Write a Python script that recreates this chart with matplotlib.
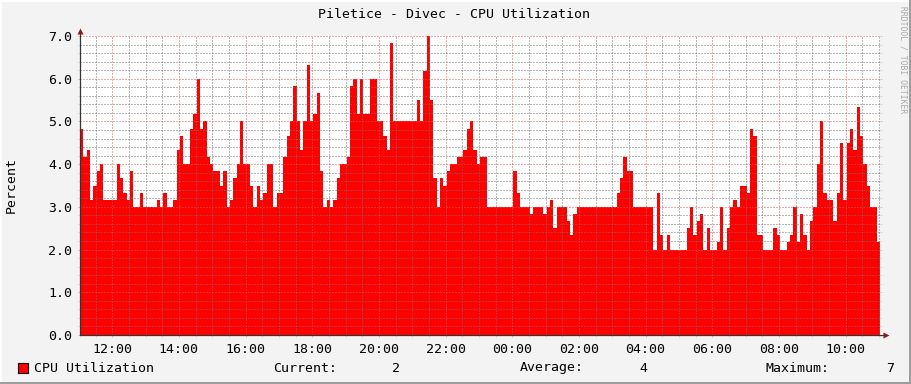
#!/usr/bin/env python3
"""RRDtool-style 1-day CPU utilization graph, redrawn with matplotlib -> out.png"""
import matplotlib
matplotlib.use("Agg")
import matplotlib.pyplot as plt
from matplotlib.patches import Rectangle
from matplotlib.ticker import MultipleLocator, FuncFormatter

TITLE = "Piletice - Divec - CPU Utilization"
YLABEL = "Percent"
SERIES = "CPU Utilization"

# 6-minute samples: time where a new value starts, and the value (%)
TIMES = ["11:02", "11:08", "11:14", "11:20", "11:26", "11:32", "11:38", "11:44",
         "12:08", "12:14", "12:20", "12:26", "12:32", "12:38", "12:50", "12:56",
         "13:20", "13:26", "13:32", "13:38", "13:50", "13:56",
         "14:02", "14:08", "14:20", "14:26", "14:32", "14:38", "14:44", "14:50", "14:56",
         "15:02", "15:14", "15:20", "15:26", "15:32", "15:38", "15:44", "15:50", "15:56",
         "16:08", "16:14", "16:20", "16:26", "16:32", "16:38", "16:50", "16:56",
         "17:08", "17:14", "17:20", "17:26", "17:32", "17:38", "17:44", "17:50", "17:56",
         "18:02", "18:08", "18:14", "18:20", "18:26", "18:32", "18:38", "18:44", "18:50",
         "19:02", "19:08", "19:14", "19:20", "19:26", "19:32", "19:44", "19:56",
         "20:08", "20:14", "20:20", "20:26",
         "21:08", "21:14", "21:20", "21:26", "21:32", "21:38", "21:44", "21:50", "21:56",
         "22:02", "22:08", "22:20", "22:32", "22:38", "22:44", "22:50", "22:56",
         "23:02", "23:14",
         "00:02", "00:08", "00:14", "00:32", "00:38", "00:56",
         "01:02", "01:08", "01:14", "01:20", "01:38", "01:44", "01:50", "01:56",
         "03:08", "03:14", "03:20", "03:26", "03:38",
         "04:14", "04:20", "04:26", "04:32", "04:38", "04:44",
         "05:14", "05:20", "05:26", "05:32", "05:38", "05:44", "05:50", "05:56",
         "06:08", "06:14", "06:20", "06:26", "06:32", "06:38", "06:44", "06:50",
         "07:02", "07:08", "07:14", "07:20", "07:32", "07:50", "07:56",
         "08:02", "08:14", "08:20", "08:26", "08:32", "08:38", "08:44", "08:50", "08:56",
         "09:02", "09:08", "09:14", "09:20", "09:26", "09:38", "09:44", "09:50", "09:56",
         "10:02", "10:08", "10:14", "10:20", "10:26", "10:32", "10:38", "10:44", "10:56"]
CPU = [4.83, 4.17, 4.33, 3.17, 3.5, 3.83, 4.0, 3.17,
       4.0, 3.67, 3.33, 3.17, 3.83, 3.0, 3.33, 3.0,
       3.17, 3.0, 3.33, 3.0, 3.17, 4.33,
       4.67, 4.0, 4.83, 5.17, 6.0, 4.83, 5.0, 4.17, 4.0,
       3.83, 3.5, 3.83, 3.0, 3.17, 3.67, 4.0, 5.0, 4.0,
       3.5, 3.0, 3.5, 3.17, 3.33, 4.0, 3.0, 3.33,
       4.17, 4.67, 5.0, 5.83, 5.0, 4.33, 5.0, 6.33, 5.0,
       5.17, 5.67, 3.83, 3.0, 3.17, 3.0, 3.17, 3.67, 4.0,
       4.17, 5.83, 6.0, 5.17, 6.0, 5.17, 6.0, 5.0,
       4.67, 4.33, 6.83, 5.0,
       5.5, 5.0, 6.17, 7.0, 5.5, 3.67, 3.0, 3.67, 3.5,
       3.83, 4.0, 4.17, 4.33, 4.83, 5.0, 4.33, 4.0,
       4.17, 3.0,
       3.83, 3.33, 3.0, 2.83, 3.0, 2.83,
       3.0, 3.17, 2.5, 3.0, 2.67, 2.33, 2.83, 3.0,
       3.33, 3.67, 4.17, 3.83, 3.0,
       2.0, 3.33, 2.33, 2.0, 2.33, 2.0,
       2.5, 3.0, 2.33, 2.67, 2.83, 2.0, 2.5, 2.0,
       2.17, 3.0, 2.0, 2.5, 3.0, 3.17, 3.0, 3.5,
       3.33, 4.83, 4.67, 2.33, 2.0, 2.5, 2.33,
       2.0, 2.17, 2.33, 3.0, 2.17, 2.83, 2.33, 2.0, 2.67,
       3.0, 4.0, 5.0, 3.33, 3.17, 2.67, 3.33, 4.5, 3.17,
       4.5, 4.83, 4.33, 5.33, 4.67, 4.0, 3.5, 3.0, 2.17]
END_TIME = "11:02"
STATS = [("Current:", "2"), ("Average:", "4"), ("Maximum:", "7")]

W, H = 911, 384
MONO = "DejaVu Sans Mono"


def to_hours(stamps):
    out, prev, day = [], None, 0
    for s in stamps:
        hh, mm = s.split(":")
        h = int(hh) + int(mm) / 60
        if prev is not None and h + day < prev:
            day += 24
        out.append(h + day)
        prev = h + day
    return out


def main(out="out.png"):
    t = to_hours(TIMES + [END_TIME])
    v = CPU + [CPU[-1]]

    fig = plt.figure(figsize=(W / 100, H / 100), dpi=100, facecolor="#F3F3F3")
    ax = fig.add_axes([80 / W, (H - 335) / H, 800 / W, 299 / H])
    ax.set_facecolor("white")

    ax.fill_between(t, v, step="post", color="#FF0000", lw=0, zorder=1)
    ax.set_xlim(t[0], t[0] + 24)
    ax.set_ylim(0, 7)

    ax.xaxis.set_major_locator(MultipleLocator(2))
    ax.xaxis.set_minor_locator(MultipleLocator(0.5))
    ax.yaxis.set_major_locator(MultipleLocator(1))
    ax.yaxis.set_minor_locator(MultipleLocator(0.2))
    ax.xaxis.set_major_formatter(FuncFormatter(lambda x, p: f"{int(round(x)) % 24:02d}:00"))
    ax.yaxis.set_major_formatter(FuncFormatter(lambda y, p: f"{y:.1f}"))

    ax.set_axisbelow(False)
    dash = (0, (1, 2))
    minor_c = (0.45, 0.45, 0.45, 0.22)
    major_c = (0.9, 0.35, 0.35, 0.4)
    ax.grid(which="minor", color=minor_c, lw=0.72, ls=dash)
    ax.grid(which="major", color=major_c, lw=0.72, ls=dash)

    for sp in ax.spines.values():
        sp.set_visible(False)
    ax.tick_params(which="both", direction="out", length=1.5, width=0.72, right=True)
    ax.tick_params(which="minor", color=minor_c)
    ax.tick_params(which="major", color=major_c, labelsize=9.5,
                   labelcolor="#000000", pad=4)
    for lab in ax.get_xticklabels() + ax.get_yticklabels():
        lab.set_family(MONO)

    # axis lines with arrow heads
    ax.plot([0, 0], [0, 1 + 3 / 299], transform=ax.transAxes, color="#333333",
            lw=0.9, clip_on=False, zorder=5)
    ax.plot([0, 1 + 4 / 800], [0, 0], transform=ax.transAxes, color="#333333",
            lw=0.9, clip_on=False, zorder=5)
    ax.plot([0], [1 + 5 / 299], transform=ax.transAxes, marker="^", ms=4.5,
            color="#8B1A1A", mec="none", clip_on=False, zorder=6)
    ax.plot([1 + 6 / 800], [0], transform=ax.transAxes, marker=">", ms=4.5,
            color="#8B1A1A", mec="none", clip_on=False, zorder=6)

    fig.text(454 / W, 1 - 14 / H, TITLE, ha="center", va="center", family=MONO, fontsize=9.5)
    fig.text(11 / W, 1 - 185 / H, YLABEL, ha="center", va="center", rotation=90,
             family=MONO, fontsize=9.5)
    fig.text(903 / W, 1 - 60 / H, "RRDTOOL / TOBI OETIKER", ha="center", va="center",
             rotation=-90, family=MONO, fontsize=5.8, color="#A8A8A8")

    # legend row
    ly = 1 - 368 / H
    fig.add_artist(Rectangle((18 / W, 1 - 373 / H), 10 / W, 10 / H, transform=fig.transFigure,
                             facecolor="#FF0000", edgecolor="black", lw=0.8))
    fig.text(34 / W, ly, SERIES, ha="left", va="center", family=MONO, fontsize=9.5)
    for (lab, val), lx, vx in zip(STATS, [273, 520, 766], [392, 639, 886]):
        fig.text(lx / W, ly, lab, ha="left", va="center", family=MONO, fontsize=9.5)
        fig.text(vx / W, ly, val, ha="left", va="center", family=MONO, fontsize=9.5)

    # 3D-ish frame
    fig.add_artist(plt.Line2D([0, 1], [1 - 1 / H] * 2, transform=fig.transFigure, color="white", lw=1.4))
    fig.add_artist(plt.Line2D([1 / W] * 2, [0, 1], transform=fig.transFigure, color="white", lw=1.4))
    fig.add_artist(plt.Line2D([0, 1], [1.5 / H] * 2, transform=fig.transFigure, color="#9C9C9C", lw=1.4))
    fig.add_artist(plt.Line2D([1 - 1.5 / W] * 2, [0, 1], transform=fig.transFigure, color="#9C9C9C", lw=1.4))

    fig.savefig(out, dpi=100, facecolor=fig.get_facecolor())
    print(f"wrote {out}")


if __name__ == "__main__":
    main()
